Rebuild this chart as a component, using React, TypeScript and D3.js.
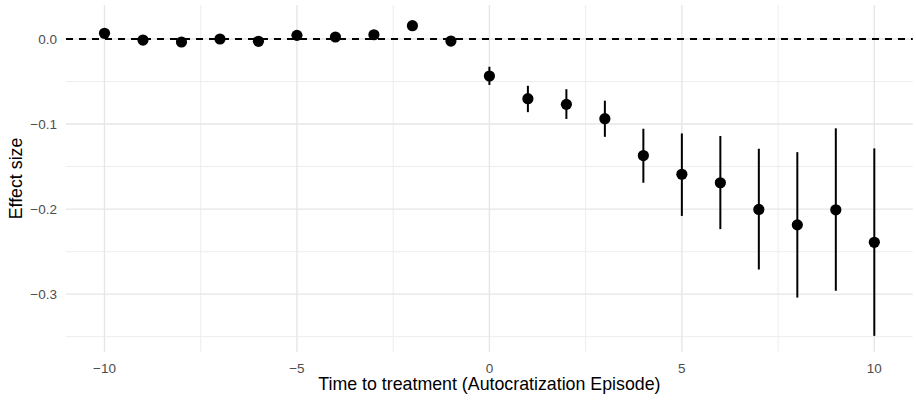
import React from "react";
import * as d3 from "d3";

const periods = [-10, -9, -8, -7, -6, -5, -4, -3, -2, -1, 0, 1, 2, 3, 4, 5, 6, 7, 8, 9, 10];
const estimates = [0.0067, -0.0012, -0.0035, 0.0, -0.0027, 0.0043, 0.0024, 0.005, 0.0157, -0.0024,
  -0.0435, -0.0702, -0.0768, -0.0937, -0.137, -0.159, -0.169, -0.2004, -0.2185, -0.2008, -0.239];
const ciLow = [0.004, -0.004, -0.006, -0.0025, -0.005, 0.0018, 0.0, 0.0025, 0.013, -0.005,
  -0.054, -0.086, -0.094, -0.115, -0.169, -0.208, -0.2235, -0.271, -0.304, -0.296, -0.349];
const ciHigh = [0.0094, 0.0016, -0.001, 0.0025, -0.0004, 0.0068, 0.0048, 0.0075, 0.0184, 0.0002,
  -0.0326, -0.055, -0.059, -0.0725, -0.1055, -0.111, -0.114, -0.129, -0.133, -0.105, -0.1286];
const xTicks = [-10, -5, 0, 5, 10];
const xMinor = [-7.5, -2.5, 2.5, 7.5];
const yTicks = [0.0, -0.1, -0.2, -0.3];
const yMinor = [-0.05, -0.15, -0.25, -0.35];

const W = 916, H = 400;
const PL = 66, PR = 912.8, PT = 5, PB = 352;

export default function App() {
  const x = d3.scaleLinear().domain([-11, 11]).range([PL, PR]);
  const y = d3.scaleLinear().domain([-0.368, 0.04]).range([PB, PT]);
  const fmt = (v: number) => (v < 0 ? "\u2212" : "") + d3.format(".1f")(Math.abs(v));
  const font = "'Liberation Sans', Arial, Helvetica, sans-serif";
  return (
    <svg width={W} height={H} style={{ position: "absolute", left: 0, top: 0, background: "#fff" }} fontFamily={font}>
      <rect width={W} height={H} fill="#fff" />
      {xMinor.map((t) => (
        <line key={"xm" + t} x1={x(t)} x2={x(t)} y1={PT} y2={PB} stroke="#ebebeb" strokeWidth={0.9} />
      ))}
      {yMinor.map((t) => (
        <line key={"ym" + t} x1={PL} x2={PR} y1={y(t)} y2={y(t)} stroke="#ebebeb" strokeWidth={0.9} />
      ))}
      {xTicks.map((t) => (
        <line key={"xg" + t} x1={x(t)} x2={x(t)} y1={PT} y2={PB} stroke="#e6e6e6" strokeWidth={1.4} />
      ))}
      {yTicks.map((t) => (
        <line key={"yg" + t} x1={PL} x2={PR} y1={y(t)} y2={y(t)} stroke="#e6e6e6" strokeWidth={1.4} />
      ))}
      <line x1={PL} x2={PR} y1={y(0)} y2={y(0)} stroke="#000" strokeWidth={1.8} strokeDasharray="7 6" />
      {periods.map((p, i) => (
        <line key={"e" + p} x1={x(p)} x2={x(p)} y1={y(ciLow[i])} y2={y(ciHigh[i])} stroke="#000" strokeWidth={2} />
      ))}
      {periods.map((p, i) => (
        <circle key={"p" + p} cx={x(p)} cy={y(estimates[i])} r={5.6} fill="#000" />
      ))}
      {xTicks.map((t) => (
        <text key={"xt" + t} x={x(t)} y={372.5} textAnchor="middle" fontSize={13.5} fill="#4d4d4d">{fmt(t).replace(".0", "")}</text>
      ))}
      {yTicks.map((t) => (
        <text key={"yt" + t} x={57} y={y(t)} dy="0.35em" textAnchor="end" fontSize={13.5} fill="#4d4d4d">{fmt(t)}</text>
      ))}
      <text x={(PL + PR) / 2} y={390} textAnchor="middle" fontSize={17.8} fill="#000">Time to treatment (Autocratization Episode)</text>
      <text transform={`translate(22,${(PT + PB) / 2}) rotate(-90)`} textAnchor="middle" fontSize={17.8} fill="#000">Effect size</text>
    </svg>
  );
}
